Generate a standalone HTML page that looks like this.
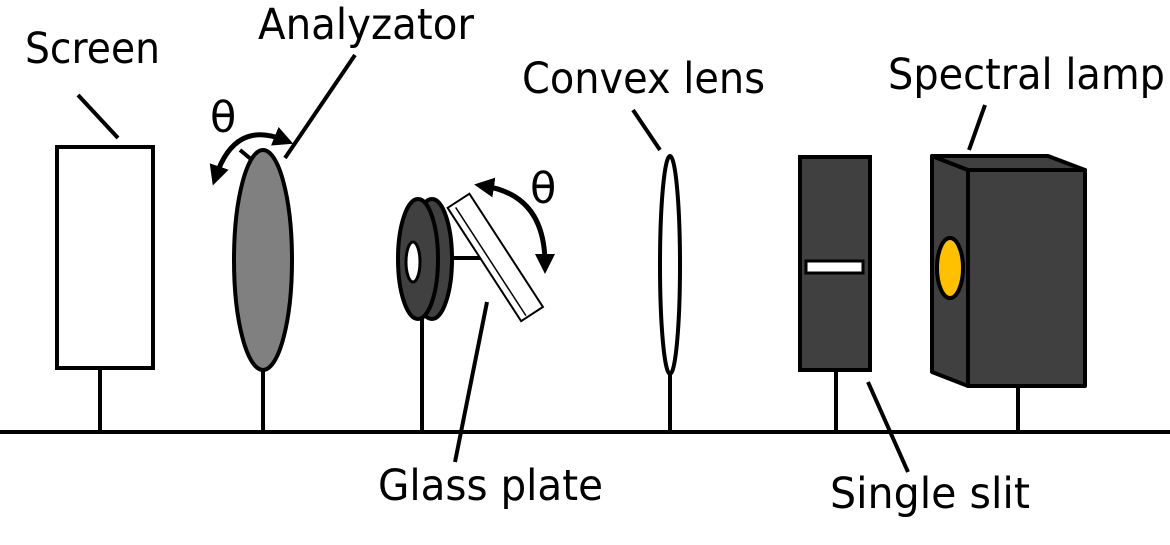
<!DOCTYPE html>
<html><head><meta charset="utf-8"><style>html,body{margin:0;padding:0;background:#fff}svg{display:block}text{font-family:"DejaVu Sans","Liberation Sans",sans-serif;font-size:43px;fill:#000}</style></head>
<body>
<svg width="1170" height="545" viewBox="0 0 1170 545">
<defs><marker id="ah" markerWidth="4" markerHeight="4" refX="2" refY="2" orient="auto-start-reverse"><path d="M0,0 L4,2 L0,4 z" fill="#000"/></marker></defs>
<g stroke="#000" stroke-width="4" fill="none">
<line x1="0" y1="432" x2="1170" y2="432"/>
<line x1="100" y1="368" x2="100" y2="432"/>
<rect x="57" y="147" width="96" height="221" fill="#fff"/>
<line x1="78" y1="95" x2="118" y2="138"/>
<line x1="263" y1="368" x2="263" y2="432"/>
<ellipse cx="263" cy="260" rx="29" ry="110" fill="#808080"/>
<line x1="355" y1="55" x2="285" y2="158"/>
<line x1="240" y1="150" x2="252" y2="160"/>
<path d="M216,176 Q235,120 284,140" stroke-width="5" marker-start="url(#ah)" marker-end="url(#ah)"/>
<line x1="422" y1="318" x2="422" y2="432"/>
<ellipse cx="432" cy="259" rx="20" ry="60" fill="#404040"/>
<ellipse cx="418" cy="259" rx="20" ry="60" fill="#404040"/>
<ellipse cx="413" cy="262" rx="7" ry="20" fill="#fff" stroke-width="3"/>
<line x1="452" y1="258" x2="498" y2="258"/>
<g transform="rotate(-33 495 257)"><rect x="482" y="190" width="26" height="135" fill="#fff" stroke-width="2"/><line x1="489" y1="194" x2="489" y2="323" stroke-width="1.5"/></g>
<path d="M484,186 Q545,195 545,264" stroke-width="5" marker-start="url(#ah)" marker-end="url(#ah)"/>
<line x1="487" y1="302" x2="455" y2="462"/>
<line x1="670" y1="372" x2="670" y2="432"/>
<ellipse cx="670" cy="265" rx="10" ry="109" fill="#fff"/>
<line x1="633" y1="110" x2="660" y2="150"/>
<line x1="836" y1="370" x2="836" y2="432"/>
<rect x="800" y="157" width="70" height="213" fill="#404040"/>
<rect x="806" y="261" width="57" height="12" fill="#fff" stroke-width="3"/>
<line x1="868" y1="382" x2="908" y2="472"/>
<line x1="1018" y1="385" x2="1018" y2="432"/>
<g fill="#404040" stroke-linejoin="round">
<path d="M932,156 L968,170 L968,386 L932,372 Z"/>
<path d="M932,156 L1048,156 L1085,170 L968,170 Z"/>
<rect x="968" y="170" width="117" height="216"/>
</g>
<ellipse cx="950" cy="268" rx="13" ry="30" fill="#FFC000"/>
<line x1="985" y1="105" x2="969" y2="150"/>
</g>
<text x="25" y="63" textLength="135" lengthAdjust="spacingAndGlyphs">Screen</text>
<text x="258" y="39" textLength="216" lengthAdjust="spacingAndGlyphs">Analyzator</text>
<text x="210" y="132">θ</text>
<text x="530" y="203">θ</text>
<text x="522" y="93" textLength="243" lengthAdjust="spacingAndGlyphs">Convex lens</text>
<text x="888" y="89" textLength="277" lengthAdjust="spacingAndGlyphs">Spectral lamp</text>
<text x="378" y="500" textLength="225" lengthAdjust="spacingAndGlyphs">Glass plate</text>
<text x="830" y="508" textLength="200" lengthAdjust="spacingAndGlyphs">Single slit</text>
</svg>
</body></html>
